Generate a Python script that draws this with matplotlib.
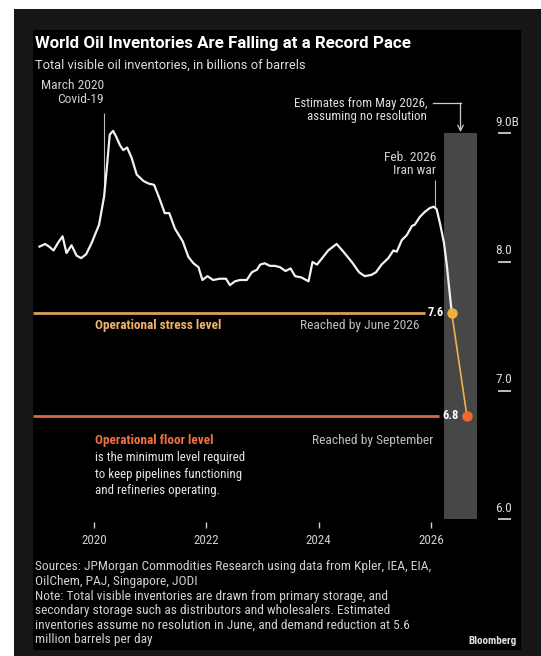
import matplotlib
matplotlib.use('Agg')
import matplotlib.pyplot as plt
from matplotlib.patches import Rectangle

plt.rcParams['font.family'] = ['Roboto Condensed', 'Liberation Sans', 'DejaVu Sans']

# Запасы нефти, млрд баррелей
years = [2019.03, 2019.13, 2019.20, 2019.28, 2019.36, 2019.44, 2019.51, 2019.60, 2019.69, 2019.77,
         2019.86, 2019.96, 2020.09, 2020.18, 2020.23, 2020.28, 2020.34, 2020.40, 2020.46, 2020.52,
         2020.59, 2020.67, 2020.76, 2020.88, 2020.97, 2021.07, 2021.16, 2021.26, 2021.34, 2021.44,
         2021.58, 2021.68, 2021.77, 2021.86, 2021.93, 2022.02, 2022.12, 2022.24, 2022.35, 2022.42,
         2022.51, 2022.60, 2022.72, 2022.81, 2022.90, 2022.96, 2023.04, 2023.13, 2023.22, 2023.31,
         2023.41, 2023.50, 2023.58, 2023.69, 2023.82, 2023.89, 2023.97, 2024.08, 2024.17, 2024.32,
         2024.44, 2024.59, 2024.72, 2024.82, 2024.94, 2025.02, 2025.12, 2025.24, 2025.33, 2025.39,
         2025.48, 2025.57, 2025.66, 2025.71, 2025.80, 2025.89, 2025.98, 2026.05, 2026.10, 2026.16,
         2026.23, 2026.28]
values = [8.12, 8.14, 8.12, 8.09, 8.15, 8.20, 8.07, 8.13, 8.05, 8.03,
          8.06, 8.15, 8.29, 8.51, 8.74, 8.99, 9.02, 8.97, 8.91, 8.87,
          8.89, 8.81, 8.68, 8.63, 8.61, 8.60, 8.50, 8.38, 8.38, 8.26,
          8.16, 8.04, 7.99, 7.96, 7.86, 7.89, 7.86, 7.87, 7.87, 7.82,
          7.85, 7.86, 7.86, 7.92, 7.94, 7.98, 7.99, 7.97, 7.97, 7.96,
          7.93, 7.95, 7.89, 7.88, 7.85, 8.00, 7.98, 8.04, 8.09, 8.14,
          8.08, 8.00, 7.92, 7.89, 7.90, 7.92, 7.98, 8.03, 8.09, 8.08,
          8.17, 8.21, 8.28, 8.29, 8.35, 8.39, 8.42, 8.43, 8.41, 8.30,
          8.15, 7.98]

# Оценка (июнь и сентябрь 2026)
est_years = [2026.37, 2026.64]
est_values = [7.6, 6.8]
est_labels = ['7.6', '6.8']
est_colors = ['#f2b13e', '#ee6b2f']

# Период оценок (серая полоса)
est_start, est_end = 2026.23, 2026.82
est_low, est_high = 6.0, 9.0

stress_level = 7.6
floor_level = 6.8

covid_year, covid_value = 2020.18, 8.51
iran_year, iran_value = 2026.05, 8.43

x_ticks = [2020, 2022, 2024, 2026]
y_ticks = [6.0, 7.0, 8.0, 9.0]
y_tick_labels = ['6.0', '7.0', '8.0', '9.0B']

footnote = ['Sources: JPMorgan Commodities Research using data from Kpler, IEA, EIA,',
            'OilChem, PAJ, Singapore, JODI',
            'Note: Total visible inventories are drawn from primary storage, and',
            'secondary storage such as distributors and wholesalers. Estimated',
            'inventories assume no resolution in June, and demand reduction at 5.6',
            'million barrels per day']

fig = plt.figure(figsize=(5.41, 6.56), dpi=100, facecolor='white')
fig.patches.append(Rectangle((14 / 541, 0), 1, 647 / 656, transform=fig.transFigure,
                             facecolor='#161616', edgecolor='none', zorder=-10))
ax = fig.add_axes([33 / 541, 6 / 656, 488 / 541, 620 / 656], facecolor='black')
ax.set_zorder(1)
ax.set_xlim(2018.914, 2027.602)
ax.set_ylim(4.983, 9.804)

# Серая полоса оценок
ax.bar((est_start + est_end) / 2, est_high - est_low, bottom=est_low,
       width=est_end - est_start, color='#474747', zorder=1)

# Уровни
ax.hlines(stress_level, 2018.914, 2025.89, color='#dc9e5c', lw=2, zorder=2)
ax.hlines(floor_level, 2018.914, 2026.14, color='#dc693e', lw=2, zorder=2)

# Основная линия
ax.plot(years + est_years[:1], values + est_values[:1], color='#f2f2f2', lw=1.6, zorder=3)
ax.plot(est_years, est_values, color='#f0b24e', lw=1.2, zorder=3)
for xv, yv, c, lab in zip(est_years, est_values, est_colors, est_labels):
    ax.plot(xv, yv, 'o', color=c, ms=6.5, zorder=4)
    ax.text(xv - 0.14, yv + 0.01, lab, color='white', fontsize=9, fontweight='bold',
            ha='right', va='center', zorder=4)

# Подписи уровней
ax.text(2020.02, stress_level - 0.09, 'Operational stress level', color='#f0b36b',
        fontsize=9.5, fontweight='bold', va='center')
ax.text(2025.80, stress_level - 0.09, 'Reached by June 2026', color='#bdbdbd',
        fontsize=9.7, ha='right', va='center')
ax.text(2020.02, floor_level - 0.19, 'Operational floor level', color='#f07040',
        fontsize=9.5, fontweight='bold', va='center')
ax.text(2026.04, floor_level - 0.19, 'Reached by September', color='#bdbdbd',
        fontsize=9.7, ha='right', va='center')
for i, line in enumerate(['is the minimum level required', 'to keep pipelines functioning',
                          'and refineries operating.']):
    ax.text(2020.02, floor_level - 0.19 - (i + 1) * 0.13, line, color='#e6e6e6',
            fontsize=9.3, va='center')

# Аннотации
ax.vlines(covid_year, covid_value, 9.16, color='#bbbbbb', lw=0.8, zorder=2)
ax.text(covid_year, 9.376, 'March 2020', color='#d0d0d0', fontsize=9.7, ha='right', va='center')
ax.text(covid_year, 9.26, 'Covid-19', color='#d0d0d0', fontsize=9.7, ha='right', va='center')

ax.vlines(iran_year + 0.02, iran_value, 8.64, color='#bbbbbb', lw=0.8, zorder=2)
ax.text(2026.09, 8.816, 'Feb. 2026', color='#d0d0d0', fontsize=9.7, ha='right', va='center')
ax.text(2026.09, 8.708, 'Iran war', color='#d0d0d0', fontsize=9.7, ha='right', va='center')

arrow_x = (est_start + est_end) / 2
ax.text(2025.93, 9.229, 'Estimates from May 2026,', color='#e0e0e0', fontsize=9.3,
        ha='right', va='center')
ax.text(2025.93, 9.128, 'assuming no resolution', color='#e0e0e0', fontsize=9.3,
        ha='right', va='center')
ax.plot([2026.04, arrow_x], [9.236, 9.236], color='#cccccc', lw=0.9)
ax.annotate('', xy=(arrow_x, est_high + 0.01), xytext=(arrow_x, 9.236),
            arrowprops=dict(arrowstyle='->', color='#cccccc', lw=0.9, shrinkA=0, shrinkB=0))

# Оси
for s in ax.spines.values():
    s.set_visible(False)
ax.spines['bottom'].set_position(('data', 5.93))
ax.set_xticks(x_ticks)
ax.set_xticklabels([str(t) for t in x_ticks])
ax.tick_params(axis='x', direction='in', length=4, width=1, color='#cccccc',
               labelcolor='#cfcfcf', labelsize=9.4, pad=4)
ax.yaxis.tick_right()
ax.spines['right'].set_position(('data', 2027.43))
ax.set_yticks(y_ticks)
ax.tick_params(axis='y', direction='in', length=9.4, width=1.2, color='#dddddd',
               labelright=False)
for yv, lab in zip(y_ticks, y_tick_labels):
    ax.text(2027.14, yv + 0.086, lab, color='#d8d8d8', fontsize=9.6, va='center')

# Заголовки и примечания
ax.text(0.004, 0.979, 'World Oil Inventories Are Falling at a Record Pace', transform=ax.transAxes,
        color='white', fontsize=12.2, fontweight='bold', va='center',
        family=['Roboto', 'Liberation Sans', 'DejaVu Sans'])
ax.text(0.004, 0.9435, 'Total visible oil inventories, in billions of barrels', transform=ax.transAxes,
        color='#dddddd', fontsize=9.3, va='center',
        family=['Roboto', 'Liberation Sans', 'DejaVu Sans'])
for i, line in enumerate(footnote):
    ax.text(0.004, 0.134 - i * 0.0235, line, transform=ax.transAxes, color='#d0d0d0',
            fontsize=9.6, va='center')
ax.text(0.992, 0.015, 'Bloomberg', transform=ax.transAxes, color='#e0e0e0',
        fontsize=8, fontweight='bold', ha='right', va='center')

fig.savefig('out.png', dpi=100, facecolor=fig.get_facecolor())
